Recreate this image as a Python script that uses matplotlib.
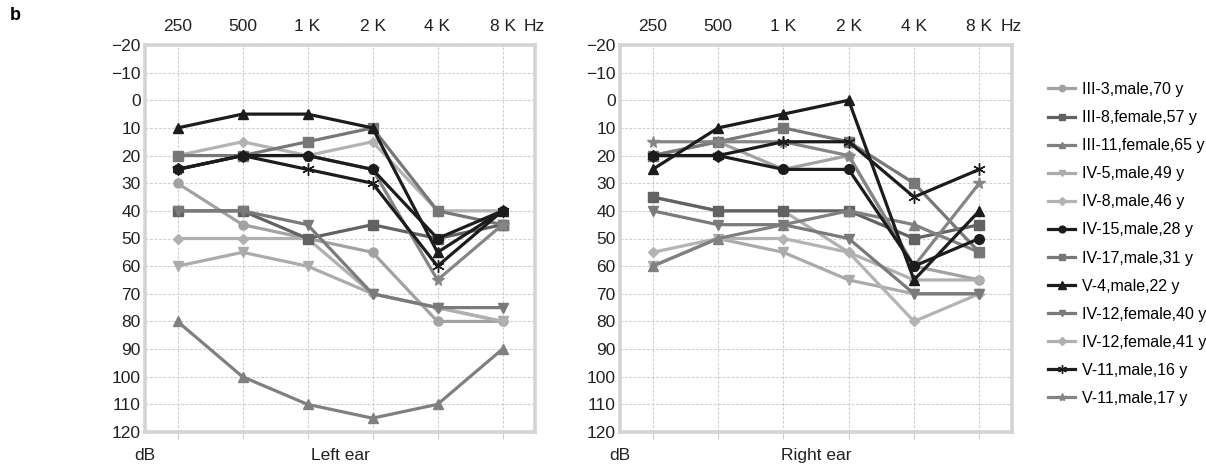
import matplotlib
matplotlib.use("Agg")
import matplotlib.pyplot as plt

plt.rcParams['font.family'] = ['Liberation Sans', 'DejaVu Sans']

freq_labels = ["250", "500", "1 K", "2 K", "4 K", "8 K"]
y_ticks = [-20, -10, 0, 10, 20, 30, 40, 50, 60, 70, 80, 90, 100, 110, 120]

names = ["III-3,male,70 y", "III-8,female,57 y", "III-11,female,65 y",
         "IV-5,male,49 y", "IV-8,male,46 y", "IV-15,male,28 y",
         "IV-17,male,31 y", "V-4,male,22 y", "IV-12,female,40 y",
         "IV-12,female,41 y", "V-11,male,16 y", "V-11,male,17 y"]

left_ear = {
    "III-3,male,70 y":    [30, 45, 50, 55, 80, 80],
    "III-8,female,57 y":  [40, 40, 50, 45, 50, 45],
    "III-11,female,65 y": [80, 100, 110, 115, 110, 90],
    "IV-5,male,49 y":     [60, 55, 60, 70, 75, 80],
    "IV-8,male,46 y":     [20, 15, 20, 15, 40, 40],
    "IV-15,male,28 y":    [25, 20, 20, 25, 50, 40],
    "IV-17,male,31 y":    [20, 20, 15, 10, 40, 45],
    "V-4,male,22 y":      [10, 5, 5, 10, 55, 40],
    "IV-12,female,40 y":  [40, 40, 45, 70, 75, 75],
    "IV-12,female,41 y":  [50, 50, 50, 70, 75, 80],
    "V-11,male,16 y":     [25, 20, 25, 30, 60, 40],
    "V-11,male,17 y":     [25, 20, 20, 25, 65, 45],
}

right_ear = {
    "III-3,male,70 y":    [20, 15, 25, 20, 60, 65],
    "III-8,female,57 y":  [35, 40, 40, 40, 50, 45],
    "III-11,female,65 y": [60, 50, 45, 40, 45, 55],
    "IV-5,male,49 y":     [60, 50, 55, 65, 70, 70],
    "IV-8,male,46 y":     [55, 50, 50, 55, 80, 70],
    "IV-15,male,28 y":    [20, 20, 25, 25, 60, 50],
    "IV-17,male,31 y":    [20, 15, 10, 15, 30, 55],
    "V-4,male,22 y":      [25, 10, 5, 0, 65, 40],
    "IV-12,female,40 y":  [40, 45, 45, 50, 70, 70],
    "IV-12,female,41 y":  [35, 40, 40, 55, 65, 65],
    "V-11,male,16 y":     [20, 20, 15, 15, 35, 25],
    "V-11,male,17 y":     [15, 15, 15, 20, 60, 30],
}

styles = {
    "III-3,male,70 y":    ("#a2a2a2", "o", 6.5, 2),
    "III-8,female,57 y":  ("#626262", "s", 6.5, 3),
    "III-11,female,65 y": ("#808080", "^", 7, 3),
    "IV-5,male,49 y":     ("#ababab", "v", 7, 2),
    "IV-8,male,46 y":     ("#b3b3b3", "D", 5.5, 2),
    "IV-15,male,28 y":    ("#1c1c1c", "o", 7, 4),
    "IV-17,male,31 y":    ("#777777", "s", 7, 3),
    "V-4,male,22 y":      ("#1c1c1c", "^", 7.5, 4),
    "IV-12,female,40 y":  ("#7a7a7a", "v", 7, 3),
    "IV-12,female,41 y":  ("#b0b0b0", "D", 5.5, 2),
    "V-11,male,16 y":     ("#1c1c1c", (6, 2, 0), 9, 4),
    "V-11,male,17 y":     ("#858585", "*", 8.5, 3),
}

fig = plt.figure(figsize=(12.06, 4.67), dpi=100)
W, H = 1206, 467
ax_l = fig.add_axes([145 / W, 1 - 432 / H, 390 / W, 387 / H])
ax_r = fig.add_axes([620 / W, 1 - 432 / H, 392 / W, 387 / H])

x = list(range(len(freq_labels)))
FS = 12.5

for ax, data, title in [(ax_l, left_ear, "Left ear"), (ax_r, right_ear, "Right ear")]:
    for nm in names:
        c, m, ms, z = styles[nm]
        ax.plot(x, data[nm], color=c, marker=m, markersize=ms, linewidth=2.3,
                markeredgecolor=c, label=nm, zorder=z)
    ax.set_xlim(-0.5, 5.5)
    ax.set_ylim(120, -20)
    ax.set_yticks(y_ticks)
    ax.set_yticklabels([str(v).replace("-", "\u2212") for v in y_ticks], fontsize=FS, color="#222222")
    ax.set_xticks(x)
    ax.xaxis.tick_top()
    ax.set_xticklabels(freq_labels, fontsize=FS, color="#222222")
    ax.tick_params(axis="x", which="both", top=False, bottom=True, length=5,
                   color="#cccccc", width=0.8, pad=3, labelbottom=False, labeltop=True)
    ax.tick_params(axis="y", length=0, pad=3)
    ax.grid(True, linestyle=(0, (2.5, 1.5)), color="#cfcfcf", linewidth=0.8, zorder=0)
    ax.set_axisbelow(True)
    for s in ax.spines.values():
        s.set_color("#d4d4d4")
        s.set_linewidth(2.6)
    ax.text(5.33, 1 + 11.1 / 387, "Hz", transform=ax.get_xaxis_transform(), fontsize=FS,
            va="bottom", ha="left", color="#222222")
    ax.text(0.0, -0.062, "dB", transform=ax.transAxes, fontsize=FS,
            ha="center", va="center", color="#222222")
    ax.text(0.5, -0.062, title, transform=ax.transAxes, fontsize=FS,
            ha="center", va="center", color="#222222")

fig.text(15 / W, 1 - 15 / H, "b", fontsize=13, fontweight="bold", ha="center", va="center")

handles, labels = ax_l.get_legend_handles_labels()
fig.legend(handles, labels, loc="upper left", bbox_to_anchor=(1048 / W, 1 - 82 / H),
           frameon=False, fontsize=11.5, handlelength=1.7, handletextpad=0.45,
           labelspacing=0.82, borderpad=0, borderaxespad=0, markerscale=0.7)

fig.savefig("out.png", dpi=100)
